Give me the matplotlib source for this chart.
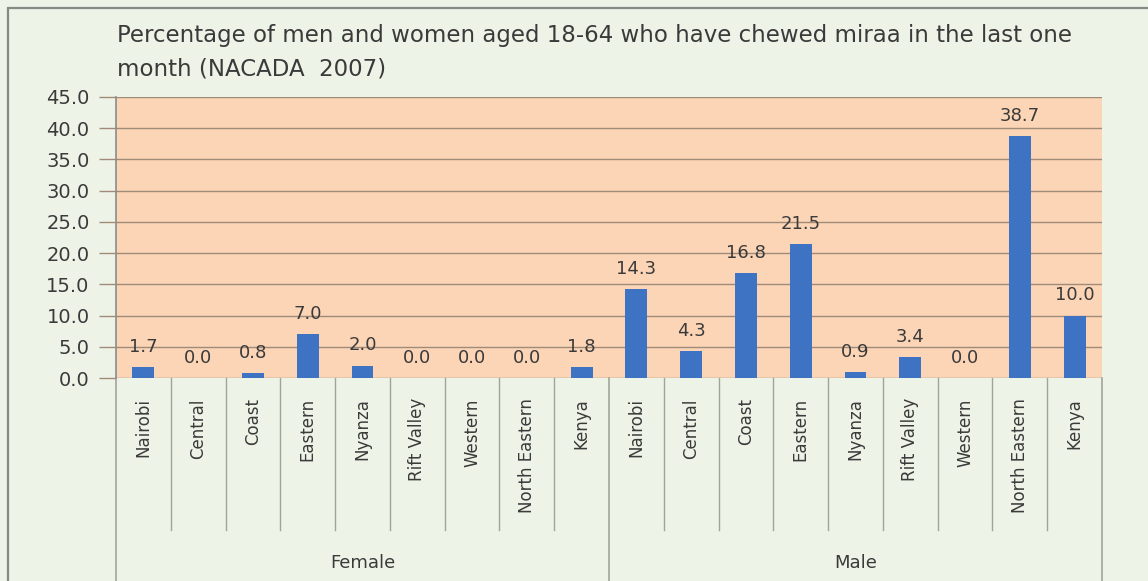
import numpy as np
import matplotlib.pyplot as plt
from matplotlib.patches import Rectangle

# Regions and values (percent), female first then male
regions = ["Nairobi", "Central", "Coast", "Eastern", "Nyanza",
           "Rift Valley", "Western", "North Eastern", "Kenya"]
groups = ["Female", "Male"]
female = [1.7, 0.0, 0.8, 7.0, 2.0, 0.0, 0.0, 0.0, 1.8]
male = [14.3, 4.3, 16.8, 21.5, 0.9, 3.4, 0.0, 38.7, 10.0]
y_ticks = [0, 5, 10, 15, 20, 25, 30, 35, 40, 45]

title = ("Percentage of men and women aged 18-64 who have chewed miraa in the last one\n"
         "month (NACADA  2007)")

plt.rcParams['font.family'] = ['DejaVu Sans']

text_col = '#3a3a3a'
grid_col = '#a08a78'
sep_col = '#a0a49c'


def main():
    labels = regions + regions
    values = female + male
    x = np.arange(len(values))

    fig = plt.figure(figsize=(11.48, 5.81), dpi=100)
    fig.patch.set_facecolor('#eef3e7')

    # Outer chart border (runs off the right and bottom edges)
    fig.add_artist(Rectangle((8 / 1148, -0.1), 1.2, 1 - 8 / 581 + 0.1,
                             transform=fig.transFigure, fill=False,
                             edgecolor='#868a84', linewidth=1.6))

    ax = fig.add_axes([116 / 1148, 1 - 378 / 581, 986 / 1148, 281 / 581])
    ax.set_facecolor('#fcd5b6')

    ax.bar(x, values, width=0.4, color='#3e72c2', zorder=3)

    for xi, v in zip(x, values):
        ax.annotate(f"{v:.1f}", (xi, v), xytext=(0, 14.5), textcoords='offset points',
                    ha='center', va='center', fontsize=13, color=text_col)

    ax.set_xlim(-0.5, len(values) - 0.5)
    ax.set_ylim(0, 45)
    ax.set_yticks(y_ticks)
    ax.set_yticklabels([f"{t:.1f}" for t in y_ticks])
    ax.yaxis.grid(True, color=grid_col, linewidth=1, zorder=0)
    ax.set_axisbelow(True)
    ax.tick_params(axis='y', length=12, width=1, color=grid_col, pad=7,
                   labelsize=14, labelcolor=text_col)
    ax.set_xticks([])

    for side in ['top', 'right', 'bottom']:
        ax.spines[side].set_visible(False)
    ax.spines['left'].set_color('#8c8c8c')
    ax.spines['left'].set_linewidth(1.2)

    trans = ax.get_xaxis_transform()

    # Category labels and separators below the plot
    for xi, lab in zip(x, labels):
        ax.text(xi, -0.072, lab, transform=trans, rotation=90, ha='center', va='top',
                fontsize=12, color=text_col)
    for b in np.arange(0.5, len(values) - 1, 1.0):
        if b == len(regions) - 0.5:
            continue
        ax.plot([b, b], [0, -0.541], transform=trans, color=sep_col,
                linewidth=1, clip_on=False)

    # Group separators and names
    n = len(regions)
    for b in [-0.5, n - 0.5, 2 * n - 0.5]:
        ax.plot([b, b], [0, -0.8], transform=trans, color=sep_col,
                linewidth=1.2, clip_on=False)
    for i, g in enumerate(groups):
        ax.text(i * n + (n - 1) / 2, -0.658, g, transform=trans, ha='center',
                va='center', fontsize=13, color=text_col)

    fig.text(117 / 1148, 1 - 52 / 581, title, ha='left', va='center',
             fontsize=16.5, color=text_col, linespacing=1.6)

    fig.savefig('out.png', dpi=100, facecolor=fig.get_facecolor())


if __name__ == '__main__':
    main()
